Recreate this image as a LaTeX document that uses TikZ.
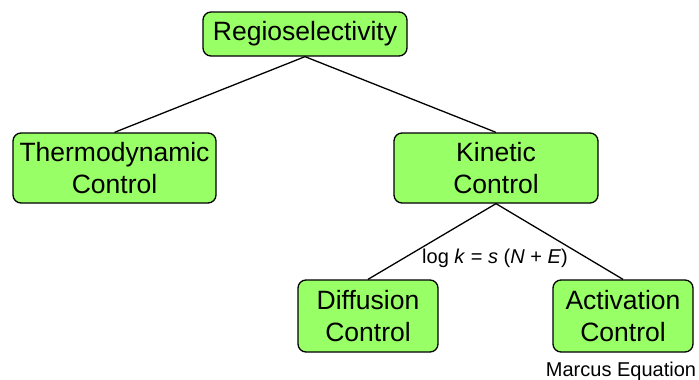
\documentclass[tikz,border=0pt]{standalone}
\usepackage{fontspec}
\setmainfont{Liberation Sans}
\usepackage{xcolor}
\usetikzlibrary{positioning}
\definecolor{limefill}{HTML}{99FF66}
\tikzset{
  box/.style={draw=black,line width=1.3pt,rounded corners=8pt,fill=limefill,align=center,inner sep=0pt,
    font=\fontsize{26.5}{32}\selectfont},
  link/.style={line width=1.3pt,black},
  note/.style={font=\fontsize{20}{23}\selectfont,inner sep=0pt}
}

\begin{document}
\begin{tikzpicture}[x=1pt,y=-1pt]
\useasboundingbox (0,0) rectangle (699,380);
\node[box,minimum width=204pt,minimum height=44pt] (regio) at (305,34) {Regioselectivity};
\node[box,minimum width=203pt,minimum height=70pt] (thermo) at (114.5,168) {Thermodynamic\\Control};
\node[box,minimum width=204pt,minimum height=70pt] (kin) at (496,168) {Kinetic\\Control};
\node[box,minimum width=140pt,minimum height=72pt] (diff) at (368,316) {Diffusion\\Control};
\node[box,minimum width=140pt,minimum height=72pt] (act) at (623,316) {Activation\\Control};
\draw[link] (regio.south) -- (thermo.north);
\draw[link] (regio.south) -- (kin.north);
\draw[link] (kin.south) -- (diff.north);
\draw[link] (kin.south) -- (act.north);
\node[note] (mayr) at (495,258) {log \textit{k} = \textit{s} (\textit{N} + \textit{E})};
\node[note,anchor=base] (marcus) at (621,376.5) {Marcus Equation};
\end{tikzpicture}
\end{document}
